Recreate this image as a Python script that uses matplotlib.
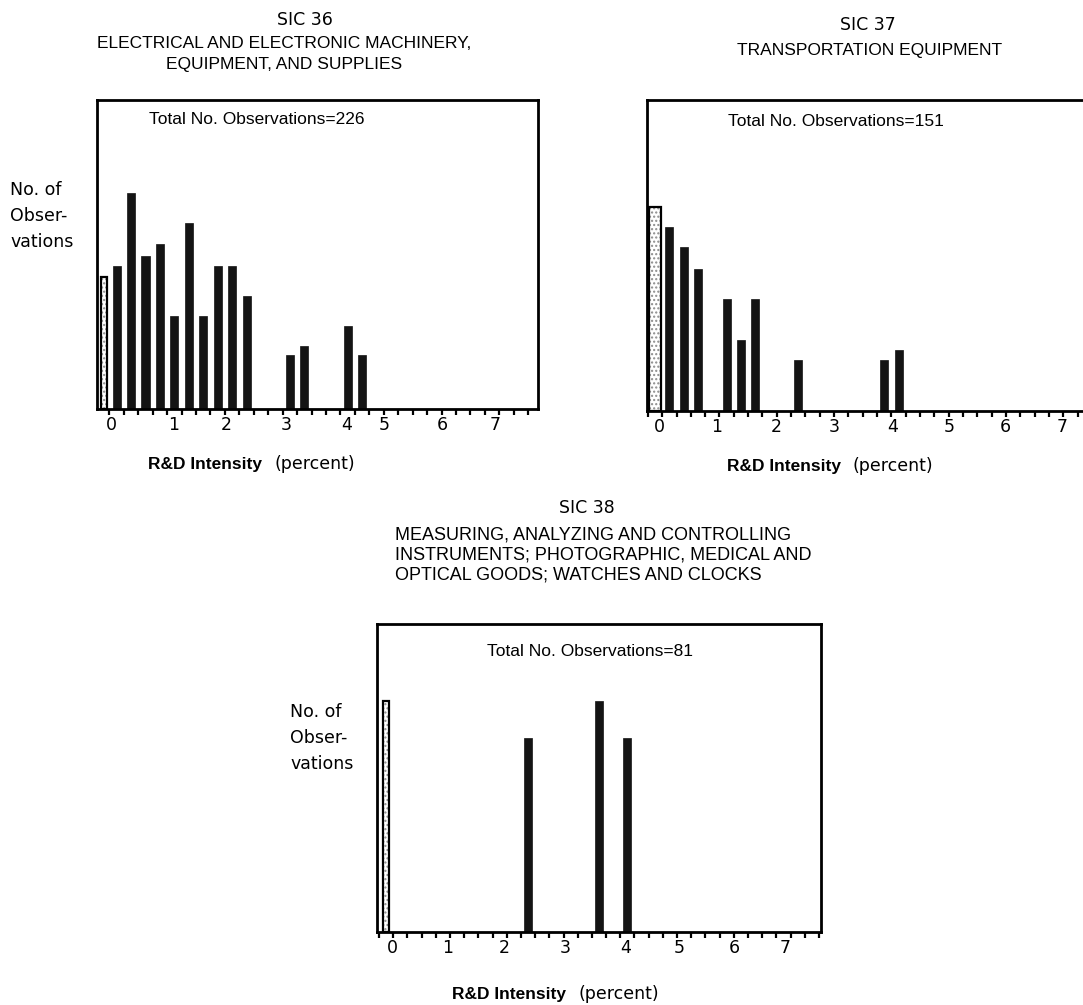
import matplotlib.pyplot as plt

W, H = 1083, 1005

# SIC 36 - bins of 0.25 percent R&D intensity
sic36_x = [0.03, 0.25, 0.5, 0.75, 1.0, 1.25, 1.5, 1.75, 2.0, 2.25, 2.5, 3.25, 3.5, 4.25, 4.5]
sic36_n = [13.2, 14.3, 21.6, 15.3, 16.5, 9.3, 18.6, 9.3, 14.3, 14.3, 11.3, 5.4, 6.3, 8.3, 5.4]

# SIC 37
sic37_x = [0.0, 0.25, 0.5, 0.75, 1.25, 1.5, 1.75, 2.5, 4.0, 4.25]
sic37_n = [20.4, 18.4, 16.4, 14.2, 11.2, 7.1, 11.2, 5.1, 5.1, 6.1]

# SIC 38
sic38_x = [0.0, 2.5, 3.75, 4.25]
sic38_n = [23.1, 19.4, 23.1, 19.4]

tick_labels = ["0", "1", "2", "3", "4", "5", "6", "7"]
# where the typed labels sit under each axis
sic36_label_pos = [0.165, 1.24, 2.14, 3.19, 4.23, 4.89, 5.88, 6.80]
sic37_label_pos = [0.075, 1.08, 2.12, 3.12, 4.14, 5.13, 6.12, 7.11]
sic38_label_pos = [0.11, 1.08, 2.09, 3.15, 4.22, 5.16, 6.13, 7.03]

HELV = "Liberation Sans"
GENEVA = "DejaVu Sans"


def fx(px):
    return px / W


def fy(py):
    return 1 - py / H


def make_axes(fig, left, top, right, bottom):
    return fig.add_axes([fx(left), fy(bottom), (right - left) / W, (bottom - top) / H])


def draw_panel(ax, xs, ns, label_pos, xlim, ylim, bar_w, first_w, right_spine=True):
    # first bin (zero R&D) is drawn as a dotted open bar
    ax.bar(xs[0], ns[0], width=first_w, facecolor="white", edgecolor="0.55",
           hatch="....", linewidth=0, zorder=2)
    ax.bar(xs[0], ns[0], width=first_w, facecolor="none", edgecolor="black",
           linewidth=1.6, zorder=3)
    ax.bar(xs[1:], ns[1:], width=bar_w, color="#141414", edgecolor="#141414",
           linewidth=0.5, zorder=2)
    ax.set_xlim(*xlim)
    ax.set_ylim(0, ylim)
    ax.set_yticks([])
    minor = [0.125 + 0.25 * m for m in range(-1, 32)]
    ax.set_xticks([m for m in minor if xlim[0] < m < xlim[1]], minor=True)
    ax.set_xticks(label_pos)
    ax.set_xticklabels(tick_labels, fontfamily=GENEVA, fontsize=12.5)
    ax.tick_params(axis="x", which="major", length=0, pad=5)
    ax.tick_params(axis="x", which="minor", length=4, width=1.6, direction="out")
    for s in ax.spines.values():
        s.set_linewidth(2)
    ax.spines["right"].set_visible(right_spine)


def xlabel(fig, cx, y):
    fig.text(fx(cx - 6), fy(y), "R&D Intensity", fontfamily=HELV, fontweight="bold",
             fontsize=12.5, ha="right", va="center")
    fig.text(fx(cx + 6), fy(y), "(percent)", fontfamily=GENEVA, fontsize=12.5,
             ha="left", va="center")


def ylabel(fig, x, y):
    for i, line in enumerate(["No. of", "Obser-", "vations"]):
        fig.text(fx(x), fy(y + 26 * i), line, fontfamily=GENEVA, fontsize=12.5,
                 ha="left", va="center")


fig = plt.figure(figsize=(W / 100, H / 100), dpi=100)

# panel SIC 36
ax1 = make_axes(fig, 97, 100, 538, 409)
draw_panel(ax1, sic36_x, sic36_n, sic36_label_pos, (-0.09, 7.545), 30.9, 0.14, 0.11)
fig.text(fx(305), fy(20), "SIC 36", fontfamily=GENEVA, fontsize=12.5, ha="center", va="center")
fig.text(fx(284), fy(43), "ELECTRICAL AND ELECTRONIC MACHINERY,", fontfamily=HELV,
         fontsize=12.5, ha="center", va="center")
fig.text(fx(284), fy(65), "EQUIPMENT, AND SUPPLIES", fontfamily=HELV, fontsize=12.5,
         ha="center", va="center")
fig.text(fx(257), fy(119), "Total No. Observations=226", fontfamily=HELV, fontsize=12.5,
         ha="center", va="center")
ylabel(fig, 10, 190)
xlabel(fig, 268, 464)

# panel SIC 37
ax2 = make_axes(fig, 647, 100, 1083, 411)
draw_panel(ax2, sic37_x, sic37_n, sic37_label_pos, (-0.14, 7.47), 31.1, 0.14, 0.2,
           right_spine=False)
fig.text(fx(868), fy(25), "SIC 37", fontfamily=GENEVA, fontsize=12.5, ha="center", va="center")
fig.text(fx(870), fy(51), "TRANSPORTATION EQUIPMENT", fontfamily=HELV, fontsize=12.5,
         ha="center", va="center")
fig.text(fx(836), fy(121), "Total No. Observations=151", fontfamily=HELV, fontsize=12.5,
         ha="center", va="center")
xlabel(fig, 847, 466)

# panel SIC 38
ax3 = make_axes(fig, 377, 624, 821, 932)
draw_panel(ax3, sic38_x, sic38_n, sic38_label_pos, (-0.16, 7.66), 30.8, 0.14, 0.11)
fig.text(fx(587), fy(508), "SIC 38", fontfamily=GENEVA, fontsize=12.5, ha="center", va="center")
for i, line in enumerate(["MEASURING, ANALYZING AND CONTROLLING",
                          "INSTRUMENTS; PHOTOGRAPHIC, MEDICAL AND",
                          "OPTICAL GOODS; WATCHES AND CLOCKS"]):
    fig.text(fx(395), fy(535 + 20 * i), line, fontfamily=HELV, fontsize=13,
             ha="left", va="center")
fig.text(fx(590), fy(652), "Total No. Observations=81", fontfamily=HELV, fontsize=12.5,
         ha="center", va="center")
ylabel(fig, 290, 712)
xlabel(fig, 572, 994)

fig.savefig("out.png", dpi=100)
